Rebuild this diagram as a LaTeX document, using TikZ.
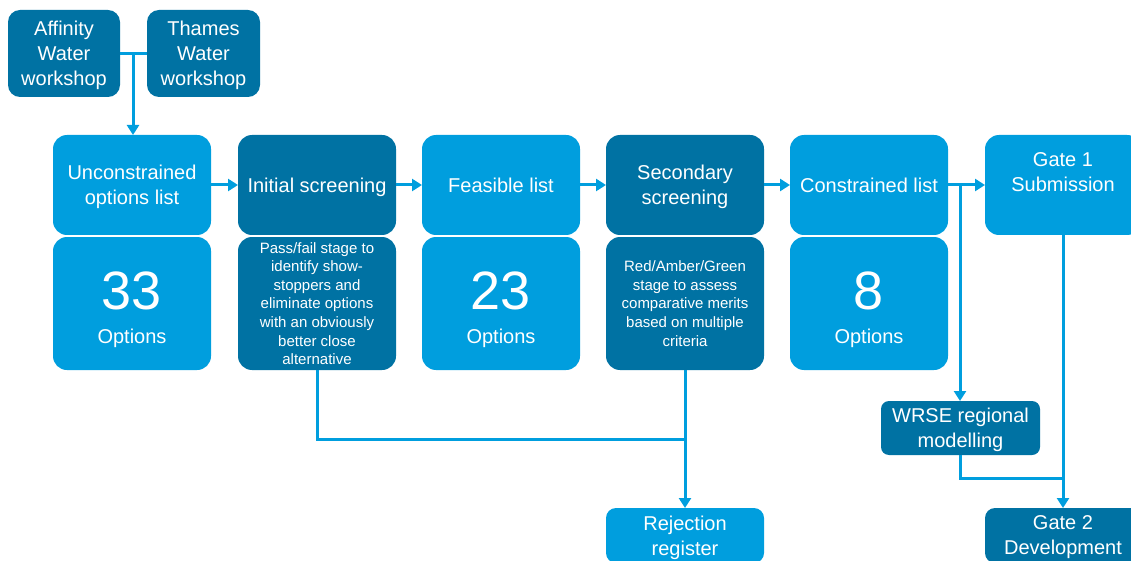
\documentclass[tikz,border=0pt]{standalone}
\usepackage{fontspec}
\setmainfont{Liberation Sans}
\usetikzlibrary{arrows.meta}
\definecolor{lightblue}{RGB}{0,158,222}
\definecolor{darkblue}{RGB}{0,114,163}

\tikzset{
  box/.style={rounded corners=14pt, text=white, align=center, inner sep=0pt, outer sep=0pt},
  lbox/.style={box, fill=lightblue},
  dbox/.style={box, fill=darkblue},
  head/.style={minimum width=158pt, minimum height=100pt},
  body/.style={minimum width=158pt, minimum height=133pt},
  big/.style={text=white, align=center, text depth=0pt, font=\fontsize{20}{25}\selectfont},
  small/.style={text=white, align=center, font=\fontsize{15}{18.6}\selectfont},
  num/.style={text=white, font=\fontsize{54}{54}\selectfont},
  link/.style={draw=lightblue, line width=3pt},
  conn/.style={link, -{Triangle[length=10pt,width=12pt]}},
}

\begin{document}
\begin{tikzpicture}[x=1pt, y=-1pt]
\useasboundingbox (0,0) rectangle (1131,561);

% workshops
\node[dbox, big, rounded corners=12pt, minimum width=112pt, minimum height=87pt] (aff) at (64,53.5) {Affinity\\Water\\workshop};
\node[dbox, big, rounded corners=12pt, minimum width=113pt, minimum height=87pt] (tha) at (203.5,53.5) {Thames\\Water\\workshop};

% main row of stages
\node[lbox, big, head] (unc) at (132,185) {Unconstrained\\options list};
\node[dbox, big, head] (ini) at (317,185) {Initial screening};
\node[lbox, big, head] (fea) at (501,185) {Feasible list};
\node[dbox, big, head] (sec) at (685,185) {Secondary\\screening};
\node[lbox, big, head] (con) at (869,185) {Constrained list};
\node[lbox, minimum width=156pt, minimum height=100pt, rounded corners=14pt] (g1) at (1063,185) {};
\node[big] (g1t) at (1063,172) {Gate 1\\Submission};

% detail row
\node[lbox, body] (unc2) at (132,303.5) {};
\node[num] (unc2n) at (132,291) {33};
\node[big] (unc2t) at (132,336) {Options};

\node[dbox, small, body] (ini2) at (317,303.5) {Pass/fail stage to\\identify show-\\stoppers and\\eliminate options\\with an obviously\\better close\\alternative};

\node[lbox, body] (fea2) at (501,303.5) {};
\node[num] (fea2n) at (501,291) {23};
\node[big] (fea2t) at (501,336) {Options};

\node[dbox, small, body] (sec2) at (685,303.5) {Red/Amber/Green\\stage to assess\\comparative merits\\based on multiple\\criteria};

\node[lbox, body] (con2) at (869,303.5) {};
\node[num] (con2n) at (869,291) {8};
\node[big] (con2t) at (869,336) {Options};

% lower boxes
\node[dbox, big, rounded corners=8pt, minimum width=159pt, minimum height=54pt] (wrse) at (960.5,428) {WRSE regional\\modelling};
\node[lbox, big, rounded corners=10pt, minimum width=158pt, minimum height=55pt] (rej) at (685,535.5) {Rejection\\register};
\node[dbox, big, rounded corners=10pt, minimum width=156pt, minimum height=55pt] (g2) at (1063,535.5) {Gate 2\\Development};

% junction points
\coordinate (j1) at (133,53.5);
\coordinate (j2) at (960,185);
\coordinate (j3) at (1063,478);
\coordinate (j4) at (685,439);

% connectors
\draw[link] (aff.east) -- (tha.west);
\draw[conn] (j1) -- (j1 |- unc.north);
\draw[conn] (unc) -- (ini);
\draw[conn] (ini) -- (fea);
\draw[conn] (fea) -- (sec);
\draw[conn] (sec) -- (con);
\draw[conn] (con) -- (g1);
\draw[conn] (j2) -- (j2 |- wrse.north);
\draw[link] (j2 |- wrse.south) |- (j3);
\draw[conn] (g1.south) -- (g2.north);
\draw[link] (ini2.south) |- (j4);
\draw[conn] (sec2.south) -- (rej.north);
\end{tikzpicture}
\end{document}
